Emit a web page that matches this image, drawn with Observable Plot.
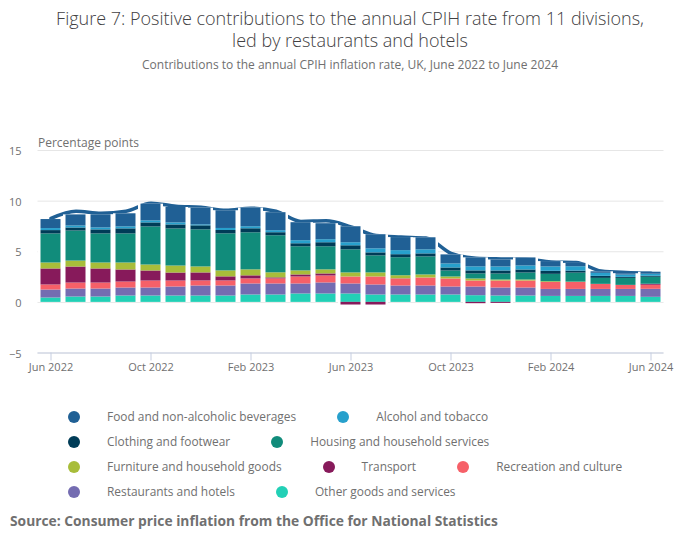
<!DOCTYPE html>
<html>
<head>
<meta charset="utf-8">
<script src="https://cdn.jsdelivr.net/npm/d3@7"></script>
<script src="https://cdn.jsdelivr.net/npm/@observablehq/plot@0.6"></script>
<style>
  body { margin: 0; width: 700px; height: 549px; position: relative; font-family: "Open Sans", sans-serif; background: #fff; overflow: hidden; }
  #title { position: absolute; top: 7px; left: 0; width: 700px; text-align: center; font-size: 18px; line-height: 22px; color: #414042; font-weight: 300; }
  #subtitle { position: absolute; top: 57px; left: 0; width: 700px; text-align: center; font-size: 12px; line-height: 16px; color: #707070; }
  #chart { position: absolute; top: 80px; left: 0; }
  #legend { position: absolute; top: 404px; left: 68px; width: 600px; display: flex; flex-wrap: wrap; column-gap: 41px; font-size: 11.9px; line-height: 25px; color: #707070; }
  .item { display: flex; align-items: center; white-space: nowrap; }
  .dot { width: 12px; height: 12px; border-radius: 50%; margin-right: 27px; flex: none; }
  #source { position: absolute; top: 512px; left: 10px; font-size: 13.8px; line-height: 18px; font-weight: bold; color: #707070; }
</style>
</head>
<body>
<div id="title">Figure 7: Positive contributions to the annual CPIH rate from 11 divisions,<br>led by restaurants and hotels</div>
<div id="subtitle">Contributions to the annual CPIH inflation rate, UK, June 2022 to June 2024</div>
<div id="chart"></div>
<div id="legend"></div>
<div id="source">Source: Consumer price inflation from the Office for National Statistics</div>
<script>
const months = ["Jun 2022","Jul 2022","Aug 2022","Sep 2022","Oct 2022","Nov 2022","Dec 2022",
  "Jan 2023","Feb 2023","Mar 2023","Apr 2023","May 2023","Jun 2023","Jul 2023","Aug 2023","Sep 2023",
  "Oct 2023","Nov 2023","Dec 2023","Jan 2024","Feb 2024","Mar 2024","Apr 2024","May 2024","Jun 2024"];
const xTicks = ["Jun 2022","Oct 2022","Feb 2023","Jun 2023","Oct 2023","Feb 2024","Jun 2024"];
const yTicks = [-5, 0, 5, 10, 15];

// Series in stacking order, bottom to top
const other       = [0.43,0.53,0.53,0.63,0.63,0.63,0.63,0.63,0.73,0.73,0.83,0.83,0.83,0.73,0.73,0.73,0.73,0.66,0.63,0.63,0.59,0.59,0.59,0.59,0.50];
const restaurants = [0.79,0.79,0.79,0.79,0.79,0.89,0.99,0.99,1.09,1.09,0.99,1.09,0.99,0.99,0.89,0.89,0.79,0.86,0.79,0.79,0.69,0.69,0.69,0.69,0.79];
const recreation  = [0.50,0.59,0.59,0.59,0.69,0.59,0.50,0.50,0.50,0.50,0.69,0.69,0.69,0.79,0.69,0.79,0.79,0.59,0.69,0.69,0.69,0.69,0.50,0.40,0.40];
const transport   = [1.58,1.58,1.39,1.19,0.99,0.79,0.79,0.40,0.30,0.10,0.20,0.20,-0.26,-0.26,0.02,0.00,0.00,-0.13,-0.10,0.00,0.00,0.00,0.00,0.00,0.10];
const furniture   = [0.59,0.59,0.59,0.69,0.59,0.69,0.59,0.59,0.59,0.50,0.40,0.40,0.40,0.40,0.30,0.30,0.20,0.20,0.10,0.10,0.07,0.03,0.00,0.00,0.00];
const housing     = [2.87,2.97,2.87,2.87,3.76,3.66,3.66,3.66,3.66,3.66,2.38,2.28,2.28,1.68,1.78,1.78,0.59,0.50,0.59,0.69,0.73,0.89,0.59,0.69,0.69];
const clothing    = [0.33,0.30,0.40,0.50,0.40,0.40,0.40,0.33,0.40,0.30,0.30,0.40,0.40,0.30,0.30,0.30,0.30,0.30,0.30,0.30,0.30,0.20,0.20,0.10,0.10];
const alcohol     = [0.20,0.20,0.20,0.20,0.20,0.20,0.10,0.20,0.20,0.20,0.30,0.30,0.30,0.40,0.40,0.40,0.40,0.40,0.40,0.40,0.43,0.43,0.30,0.23,0.20];
const food        = [0.89,1.09,1.29,1.29,1.65,1.52,1.65,1.75,1.85,1.78,1.78,1.58,1.58,1.39,1.29,1.19,0.89,0.89,0.69,0.79,0.53,0.33,0.15,0.13,0.20];
const cpih        = [8.3,9.0,8.8,9.0,9.8,9.5,9.4,9.1,9.3,9.0,8.0,8.05,7.45,6.6,6.45,6.35,4.85,4.36,4.29,4.26,4.0,3.95,3.1,2.95,2.9];

const seriesNames = ["Other goods and services","Restaurants and hotels","Recreation and culture","Transport",
  "Furniture and household goods","Housing and household services","Clothing and footwear","Alcohol and tobacco",
  "Food and non-alcoholic beverages"];
const seriesValues = [other, restaurants, recreation, transport, furniture, housing, clothing, alcohol, food];
const seriesColors = ["#22d0b6","#746cb1","#f66068","#871a5b","#a8bd3a","#118c7b","#003c57","#27a0cc","#206095"];
const legendOrder = ["Food and non-alcoholic beverages","Alcohol and tobacco","Clothing and footwear",
  "Housing and household services","Furniture and household goods","Transport","Recreation and culture",
  "Restaurants and hotels","Other goods and services"];

const rows = [];
seriesNames.forEach((name, s) => {
  months.forEach((m, i) => rows.push({month: m, series: name, value: seriesValues[s][i]}));
});
const totals = months.map((m, i) => {
  let pos = 0, neg = 0;
  seriesValues.forEach(v => { if (v[i] >= 0) pos += v[i]; else neg += v[i]; });
  return {month: m, pos, neg};
});
const lineRows = months.map((m, i) => ({month: m, value: cpih[i]}));

const chart = Plot.plot({
  width: 700,
  height: 305,
  marginLeft: 37.5,
  marginRight: 36.5,
  marginTop: 70,
  marginBottom: 32.5,
  style: {fontFamily: "Open Sans, sans-serif", background: "transparent"},
  x: {type: "band", domain: months, padding: 0},
  y: {domain: [-5, 15]},
  color: {domain: seriesNames, range: seriesColors},
  marks: [
    Plot.gridY(yTicks, {stroke: "#e6e6e6", strokeOpacity: 1}),
    Plot.axisY(yTicks, {tickSize: 0, tickPadding: 16.5, fontSize: 11, fill: "#707070", label: null, dy: 1}),
    Plot.line(lineRows, {x: "month", y: "value", stroke: "#206095", strokeWidth: 3.5, curve: "monotone-x"}),
    Plot.barY(totals, {x: "month", y1: "neg", y2: "pos", fill: "white"}),
    Plot.barY(rows, {x: "month", y: "value", fill: "series", insetLeft: 2.5, insetRight: 2.5}),
    Plot.ruleY([-5], {stroke: "#c5cde0"}),
    Plot.axisX(xTicks, {tickSize: 8, tickPadding: 2, stroke: "#c5cde0", fill: "#707070", fontSize: 11, label: null}),
    Plot.text(["Percentage points"], {frameAnchor: "top-left", lineAnchor: "middle", dy: -7, fontSize: 12, fill: "#707070", textAnchor: "start"})
  ]
});
document.getElementById("chart").appendChild(chart);

const legend = document.getElementById("legend");
legendOrder.forEach(name => {
  const item = document.createElement("div");
  item.className = "item";
  const dot = document.createElement("span");
  dot.className = "dot";
  dot.style.background = seriesColors[seriesNames.indexOf(name)];
  const label = document.createElement("span");
  label.textContent = name;
  item.appendChild(dot);
  item.appendChild(label);
  legend.appendChild(item);
});
</script>
</body>
</html>
